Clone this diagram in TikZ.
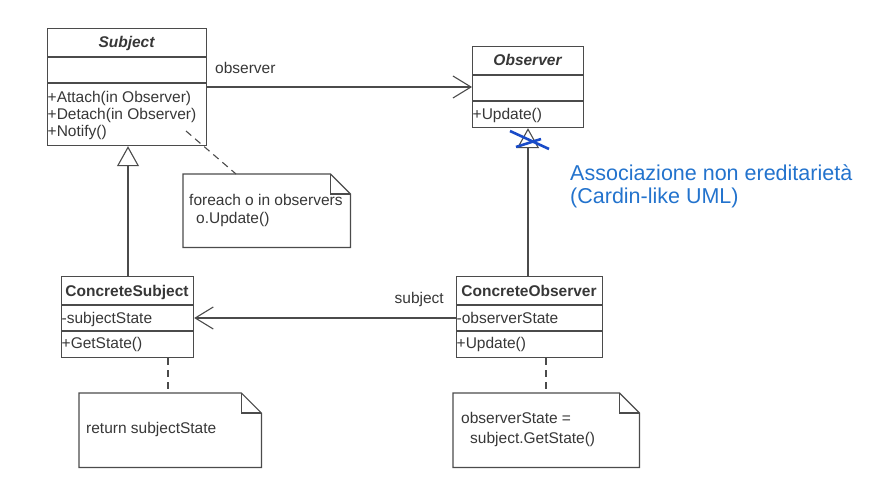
\documentclass[tikz,border=0pt]{standalone}
\usepackage{fontspec}
\setmainfont{Liberation Sans}
\usetikzlibrary{arrows.meta}
\definecolor{lc}{RGB}{75,75,75}
\definecolor{tc}{RGB}{55,55,55}
\definecolor{xblue}{RGB}{25,75,200}
\definecolor{tblue}{RGB}{35,115,205}
\tikzset{
  box/.style={draw=lc, line width=1.2pt, minimum width=#1, anchor=north west, inner sep=0pt},
  cls/.style={anchor=base, font=\fontsize{15.5}{18}\selectfont\bfseries, text=tc, inner sep=0pt},
  mem/.style={anchor=base west, font=\fontsize{15.5}{18}\selectfont, text=tc, inner sep=0pt},
  lbl/.style={font=\fontsize{15.5}{18}\selectfont, text=tc, inner sep=0pt},
  notetxt/.style={anchor=base west, font=\fontsize{15.5}{18}\selectfont, text=tc, inner sep=0pt},
  conn/.style={draw=lc, line width=1.1pt},
  dashedlink/.style={draw=lc, line width=1.1pt, dash pattern=on 7pt off 5pt},
  notebox/.style={draw=none, anchor=north west, inner sep=0pt},
  inherit/.style={conn, -{Triangle[open, length=20pt, width=22pt]}},
  assoc/.style={conn, -{Straight Barb[length=18pt, width=22pt, line width=1.1pt]}},
}
\newcommand{\notedraw}[2]{% node name, dog-ear size
  \draw[draw=lc, line width=1.2pt] (#1.north west) -- ([xshift=-#2pt]#1.north east) -- ([yshift=-#2pt]#1.north east) -- (#1.south east) -- (#1.south west) -- cycle;
  \draw[draw=lc, line width=1.2pt] ([xshift=-#2pt]#1.north east) -- ([xshift=-#2pt,yshift=-#2pt]#1.north east) -- ([yshift=-#2pt]#1.north east);
}
\begin{document}
\begin{tikzpicture}[x=1pt,y=-1pt]
\useasboundingbox (0,0) rectangle (877,487);

% Subject class
\node[box=159pt, minimum height=117pt] (subj) at (47,28) {};
\draw[conn] (47,57) -- (206,57);
\draw[conn] (47,83) -- (206,83);
\node[cls, font=\fontsize{15.5}{18}\selectfont\bfseries\itshape] (subjt) at (126.5,48) {Subject};
\node[mem] (m1) at (47.5,102) {+Attach(in Observer)};
\node[mem] (m2) at (47.5,119) {+Detach(in Observer)};
\node[mem] (m3) at (47.5,136) {+Notify()};

% Observer class
\node[box=111pt, minimum height=81pt] (obs) at (472,46) {};
\draw[conn] (472,75) -- (583,75);
\draw[conn] (472,101) -- (583,101);
\node[cls, font=\fontsize{15.5}{18}\selectfont\bfseries\itshape] (obst) at (527.5,66) {Observer};
\node[mem] (om1) at (472.5,119) {+Update()};

% ConcreteSubject
\node[box=132pt, minimum height=81pt] (csub) at (61,276) {};
\draw[conn] (61,305) -- (193,305);
\draw[conn] (61,331) -- (193,331);
\node[cls] (csubt) at (127,296) {ConcreteSubject};
\node[mem] (ca) at (61.5,323) {-subjectState};
\node[mem] (cm) at (61.5,348) {+GetState()};

% ConcreteObserver
\node[box=146pt, minimum height=81pt] (cobs) at (456,276) {};
\draw[conn] (456,305) -- (602,305);
\draw[conn] (456,331) -- (602,331);
\node[cls] (cobst) at (529,296) {ConcreteObserver};
\node[mem] (oa) at (456.5,323) {-observerState};
\node[mem] (om) at (456.5,348) {+Update()};

% associations
\draw[assoc] (subj.east |- 0,87) -- (obs.west |- 0,87);
\node[lbl, anchor=base west] (lobs) at (215,74) {observer};
\draw[assoc] (cobs.west |- 0,318) -- (csub.east |- 0,318);
\node[lbl, anchor=base east] (lsub) at (444,303) {subject};

% inheritance
\draw[inherit] (csub.north -| 128,0) -- (subj.south -| 128,0);
\draw[inherit] (cobs.north -| 528,0) -- (obs.south -| 528,0);

% blue cross
\coordinate (x1a) at (510,131);
\coordinate (x1b) at (549,149);
\coordinate (x2a) at (516,147);
\coordinate (x2b) at (541,139);
\draw[xblue, line width=2.6pt] (x1a) -- (x1b);
\draw[xblue, line width=2.6pt] (x2a) -- (x2b);
\node[anchor=base west, inner sep=0pt, text=tblue, font=\fontsize{21.5}{24}\selectfont] (blue1) at (570,180) {Associazione non ereditarietà};
\node[anchor=base west, inner sep=0pt, text=tblue, font=\fontsize{21.5}{24}\selectfont] (blue2) at (570,203) {(Cardin-like UML)};

% notes
\node[notebox, minimum width=167pt, minimum height=73pt] (n1) at (183,174) {};
\notedraw{n1}{20}
\node[notetxt] (n1t) at (189,205) {foreach o in observers};
\node[notetxt] (n1u) at (196,223) {o.Update()};
\coordinate (n1c) at (186,131);
\draw[dashedlink] (n1c) -- (n1.north -| 236,0);

\node[notebox, minimum width=182pt, minimum height=74pt] (n2) at (79,393) {};
\notedraw{n2}{20}
\node[notetxt] (n2t) at (86,433) {return subjectState};
\draw[dashedlink] (csub.south -| 168,0) -- (n2.north -| 168,0);

\node[notebox, minimum width=186pt, minimum height=74pt] (n3) at (453,393) {};
\notedraw{n3}{20}
\node[notetxt] (n3t) at (461,423) {observerState =};
\node[notetxt] (n3u) at (470,443) {subject.GetState()};
\draw[dashedlink] (cobs.south -| 546,0) -- (n3.north -| 546,0);
\end{tikzpicture}
\end{document}
